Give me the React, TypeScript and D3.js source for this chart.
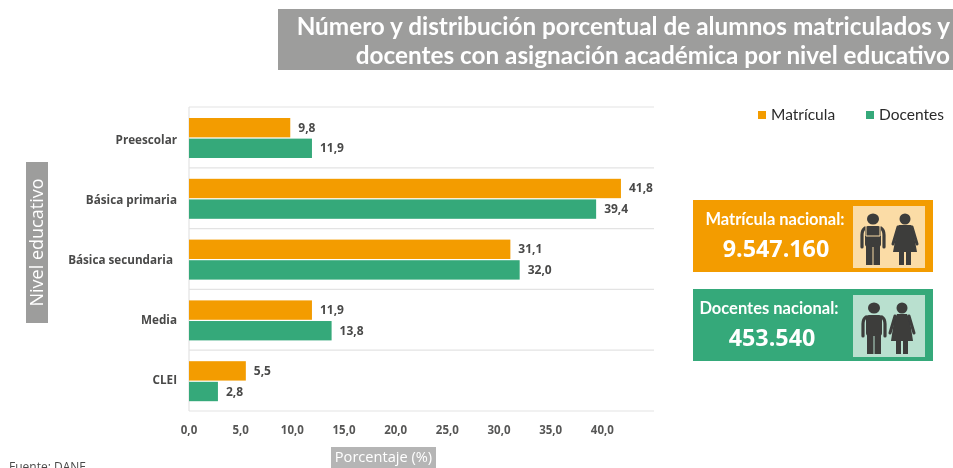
import { useEffect, useRef } from "react";
import * as d3 from "d3";

const niveles = ["Preescolar", "Básica primaria", "Básica secundaria", "Media", "CLEI"];
const series = ["Matrícula", "Docentes"];
const matricula = [9.8, 41.8, 31.1, 11.9, 5.5];
const docentes = [11.9, 39.4, 32.0, 13.8, 2.8];
const ticks = [0, 5, 10, 15, 20, 25, 30, 35, 40];
const titulo = [
  "Número y distribución porcentual de alumnos matriculados y",
  "docentes con asignación académica por nivel educativo",
];

const NARANJA = "#f39c00";
const VERDE = "#36a97a";
const GRIS = "#9d9d9c";
const TEXTO = "#4a4a49";

const fmt = (v: number) => v.toFixed(1).replace(".", ",");

// figuras de los recuadros, dibujadas en torno a (0,0)
function hombre(g: any, mochila: boolean, claro: string) {
  const c = "#3c3c3b";
  g.append("ellipse").attr("cx", 0).attr("cy", -19).attr("rx", 6).attr("ry", 5.5).attr("fill", c);
  g.append("rect").attr("x", -8).attr("y", -12).attr("width", 16).attr("height", 21).attr("rx", 3).attr("fill", c);
  g.append("rect").attr("x", -7).attr("y", 7).attr("width", 6.5).attr("height", 20).attr("fill", c);
  g.append("rect").attr("x", 0.5).attr("y", 7).attr("width", 6.5).attr("height", 20).attr("fill", c);
  g.append("path").attr("d", "M-8,-10 Q-11,-8 -11,-3 L-11,9").attr("fill", "none").attr("stroke", c).attr("stroke-width", 3.2).attr("stroke-linecap", "round");
  g.append("path").attr("d", "M8,-10 Q11,-8 11,-3 L11,9").attr("fill", "none").attr("stroke", c).attr("stroke-width", 3.2).attr("stroke-linecap", "round");
  if (mochila) {
    g.append("path").attr("d", "M-7,-12 L-7,-2 L7,-2 L7,-12").attr("fill", "none").attr("stroke", claro).attr("stroke-width", 1);
  }
}

function mujer(g: any, mochila: boolean) {
  const c = "#3c3c3b";
  g.append("ellipse").attr("cx", 0).attr("cy", -19).attr("rx", 5.5).attr("ry", 5.5).attr("fill", c);
  g.append("path").attr("d", mochila ? "M-6,-13 L6,-13 Q9,-10 9,-2 L12,14 L-12,14 L-9,-2 Q-9,-10 -6,-13 Z" : "M-5,-13 L5,-13 L8,-6 L11,14 L-11,14 L-8,-6 Z").attr("fill", c);
  g.append("rect").attr("x", -6).attr("y", 14).attr("width", 5).attr("height", 13).attr("fill", c);
  g.append("rect").attr("x", 1).attr("y", 14).attr("width", 5).attr("height", 13).attr("fill", c);
  g.append("path").attr("d", "M-7,-11 L-12,6").attr("stroke", c).attr("stroke-width", 3).attr("stroke-linecap", "round");
  g.append("path").attr("d", "M7,-11 L12,6").attr("stroke", c).attr("stroke-width", 3).attr("stroke-linecap", "round");
}

function App() {
  const svgRef = useRef<SVGSVGElement>(null);

  useEffect(() => {
    document.body.style.margin = "0";
    const width = 953;
    const height = 468;
    const svg = d3.select(svgRef.current);
    svg.selectAll("*").remove();
    svg.attr("viewBox", `0 0 ${width} ${height}`).attr("width", width).attr("height", height).style("display", "block");

    // la referencia es una imagen algo borrosa
    svg.append("defs").append("filter").attr("id", "blur")
      .append("feGaussianBlur").attr("stdDeviation", 0.45);
    const root = svg.append("g").attr("filter", "url(#blur)");
    root.append("rect").attr("width", width).attr("height", height).attr("fill", "#fff");

    // titulo
    root.append("rect").attr("x", 278).attr("y", 9).attr("width", 675).attr("height", 61).attr("fill", GRIS);
    root.append("g").selectAll("text").data(titulo).join("text")
      .attr("x", 950).attr("y", (_, i) => 35 + i * 29)
      .attr("text-anchor", "end")
      .attr("font-family", "Lato").attr("font-weight", 700).attr("font-size", 24.3)
      .attr("fill", "#fff").text((d) => d);

    const x = d3.scaleLinear().domain([0, 45]).range([189, 654]);
    const y = d3.scaleBand().domain(niveles).range([107, 411]);
    const inner = d3.scaleBand().domain(series).range([11, 51]).paddingInner(0.06);
    const yLabel = d3.scalePoint().domain(niveles).range([140, 380]);

    // marco y separadores
    const grid = root.append("g").attr("stroke", "#e3e3e3").attr("stroke-width", 1.2);
    grid.selectAll("line.sep").data([...niveles, "fin"]).join("line")
      .attr("x1", 189).attr("x2", 654)
      .attr("y1", (_, i) => 107 + i * y.bandwidth())
      .attr("y2", (_, i) => 107 + i * y.bandwidth());
    grid.append("line").attr("x1", 189).attr("x2", 189).attr("y1", 107).attr("y2", 411);

    // barras
    const valores = [matricula, docentes];
    const colores = [NARANJA, VERDE];
    series.forEach((s, k) => {
      const g = root.append("g");
      g.selectAll("rect").data(valores[k]).join("rect")
        .attr("x", x(0))
        .attr("y", (_, i) => y(niveles[i])! + inner(s)!)
        .attr("width", (d) => x(d) - x(0))
        .attr("height", inner.bandwidth())
        .attr("fill", colores[k]);
      g.selectAll("text").data(valores[k]).join("text")
        .attr("x", (d) => x(d) + 8)
        .attr("y", (_, i) => y(niveles[i])! + inner(s)! + inner.bandwidth() / 2 + 4)
        .attr("font-family", "Open Sans").attr("font-weight", 700).attr("font-size", 12)
        .attr("fill", TEXTO).text((d) => fmt(d));
    });

    // categorias
    root.append("g").selectAll("text").data(niveles).join("text")
      .attr("x", (d) => (d === "Básica secundaria" ? 173 : 177))
      .attr("y", (d) => yLabel(d)! + 4)
      .attr("text-anchor", "end")
      .attr("font-family", "Open Sans").attr("font-weight", 700).attr("font-size", 11.7)
      .attr("fill", TEXTO).text((d) => d);

    // eje x
    root.append("g").selectAll("text").data(ticks).join("text")
      .attr("x", (d) => x(d)).attr("y", 434)
      .attr("text-anchor", "middle")
      .attr("font-family", "Open Sans").attr("font-weight", 700).attr("font-size", 11.5)
      .attr("fill", "#575756").text((d) => fmt(d));

    root.append("rect").attr("x", 331).attr("y", 447).attr("width", 105).attr("height", 21).attr("fill", "#b5b5b5");
    root.append("text").attr("x", 383.5).attr("y", 462).attr("text-anchor", "middle")
      .attr("font-family", "Open Sans").attr("font-size", 14.6).attr("fill", "#fff").text("Porcentaje (%)");

    // eje y
    root.append("rect").attr("x", 26).attr("y", 162).attr("width", 22).attr("height", 161).attr("fill", GRIS);
    root.append("text").attr("transform", "translate(43,242.5) rotate(-90)").attr("text-anchor", "middle")
      .attr("font-family", "Open Sans").attr("font-size", 18).attr("fill", "#fff").text("Nivel educativo");

    // en la referencia esta linea tambien queda cortada por el borde inferior
    root.append("text").attr("x", 9).attr("y", 470.5)
      .attr("font-family", "Open Sans").attr("font-size", 12).attr("fill", TEXTO).text("Fuente: DANE");

    // leyenda
    const leyendaX = [758, 866];
    series.forEach((s, k) => {
      root.append("rect").attr("x", leyendaX[k]).attr("y", 111).attr("width", 8).attr("height", 8).attr("fill", colores[k]);
      root.append("text").attr("x", leyendaX[k] + 13).attr("y", 120)
        .attr("font-family", "Lato").attr("font-size", 15.5).attr("fill", "#2b2b2b").text(s);
    });

    // recuadros nacionales
    const cajas = [
      { y: 200, color: NARANJA, claro: "#fbdca6", label: "Matrícula nacional:", lx: 775, value: "9.547.160", vx: 776, alumnos: true, hx: 873, mx: 905 },
      { y: 289, color: VERDE, claro: "#b9e0cf", label: "Docentes nacional:", lx: 769, value: "453.540", vx: 772, alumnos: false, hx: 874, mx: 902 },
    ];
    cajas.forEach((c) => {
      const g = root.append("g");
      g.append("rect").attr("x", 693).attr("y", c.y).attr("width", 240).attr("height", 72).attr("fill", c.color);
      g.append("rect").attr("x", 853).attr("y", c.y + 6).attr("width", 72).attr("height", 62).attr("fill", c.claro);
      g.append("text").attr("x", c.lx).attr("y", c.y + 25).attr("text-anchor", "middle")
        .attr("font-family", "Lato").attr("font-weight", 700).attr("font-size", 16.5).attr("fill", "#fff").text(c.label);
      g.append("text").attr("x", c.vx).attr("y", c.y + 57).attr("text-anchor", "middle")
        .attr("font-family", "Open Sans").attr("font-weight", 700).attr("font-size", 23.3).attr("fill", "#fff").text(c.value);
      hombre(g.append("g").attr("transform", `translate(${c.hx},${c.y + 38})`), c.alumnos, c.claro);
      mujer(g.append("g").attr("transform", `translate(${c.mx},${c.y + 38})`), c.alumnos);
    });
  }, []);

  return (
    <div>
      <svg ref={svgRef}></svg>
    </div>
  );
}

export default App;
